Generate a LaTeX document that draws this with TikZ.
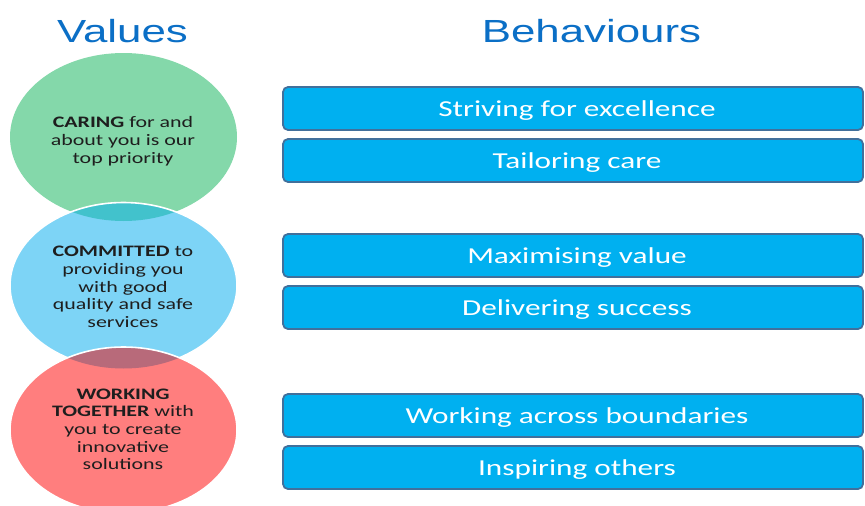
\documentclass[tikz,border=0pt]{standalone}
\usepackage{fontspec}
\setmainfont{Carlito}
\newfontfamily\titlefont{Liberation Sans}
\definecolor{cgreen}{HTML}{84D8AA}
\definecolor{cblue}{HTML}{7DD4F6}
\definecolor{cred}{HTML}{FF7E7E}
\definecolor{cteal}{HTML}{42C2CC}
\definecolor{cmauve}{HTML}{B86A7A}
\definecolor{boxfill}{HTML}{00B0F0}
\definecolor{boxline}{HTML}{41709C}
\definecolor{titleblue}{HTML}{0B6FC6}
\definecolor{ctext}{HTML}{1E1E1E}
\newcommand{\wide}[1]{\scalebox{1.37}[1]{#1}}
\tikzset{
  behbox/.style={draw=boxline, line width=1.8pt, fill=boxfill, rounded corners=5pt},
  behtext/.style={text=white, font=\fontsize{22.8}{27}\selectfont, inner sep=0pt, anchor=base},
  valtext/.style={text=ctext, inner sep=0pt, font=\fontsize{16}{17.6}\selectfont},
  titletext/.style={text=titleblue, font=\titlefont\fontsize{32}{38}\selectfont, inner sep=0pt},
  ring/.style={draw=white, line width=1.6pt}
}
\begin{document}
\begin{tikzpicture}[x=1pt,y=-1pt]
\useasboundingbox (0,0) rectangle (865,506);
\clip (0,0) rectangle (865,506);
% circles
\fill[cgreen] (123.5,137) ellipse [x radius=113.5, y radius=84];
\fill[cblue] (123.5,285.5) ellipse [x radius=113.5, y radius=83];
\begin{scope}
  \clip (123.5,137) ellipse [x radius=113.5, y radius=84];
  \fill[cteal] (123.5,285.5) ellipse [x radius=113.5, y radius=83];
\end{scope}
\draw[ring] (123.5,285.5) ellipse [x radius=113.5, y radius=83];
\fill[cred] (123.5,430) ellipse [x radius=113.5, y radius=83];
\begin{scope}
  \clip (123.5,285.5) ellipse [x radius=113.5, y radius=83];
  \fill[cmauve] (123.5,430) ellipse [x radius=113.5, y radius=83];
\end{scope}
\draw[ring] (123.5,430) ellipse [x radius=113.5, y radius=83];
% titles
\node[titletext] (tvalues) at (122.5,31) {\wide{Values}};
\node[titletext] (tbeh) at (591.5,31) {\wide{Behaviours}};
% value texts
\node[valtext] (caring) at (123,142) {\wide{\begin{tabular}{@{}c@{}}\textbf{CARING} for and\\ about you is our\\ top priority\end{tabular}}};
\node[valtext] (committed) at (123,288.5) {\wide{\begin{tabular}{@{}c@{}}\textbf{COMMITTED} to\\ providing you\\ with good\\ quality and safe\\ services\end{tabular}}};
\node[valtext] (working) at (123,431) {\wide{\begin{tabular}{@{}c@{}}\textbf{WORKING}\\ \textbf{TOGETHER} with\\ you to create\\ innovative\\ solutions\end{tabular}}};
% behaviour boxes
\foreach \n/\t/\b/\txt in {b1/87/130/Striving for excellence,
                            b2/139/182/Tailoring care,
                            b3/234/277/Maximising value,
                            b4/286/329/Delivering success,
                            b5/394/437/Working across boundaries,
                            b6/446/489/Inspiring others}{
  \draw[behbox] (283,\t) rectangle (863,\b);
  \node[behtext] (\n) at (577,{(\t+\b)/2+7.5}) {\wide{\txt}};
}
\end{tikzpicture}
\end{document}
